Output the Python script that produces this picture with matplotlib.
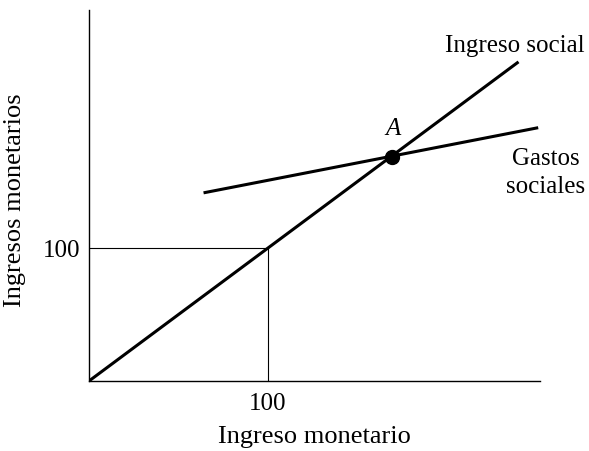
import matplotlib.pyplot as plt

# data (units of money income)
social_x = [0, 240]
social_y = [0, 240]
gastos_x = [64, 251]
gastos_y = [141.5, 190.5]
point_a = (169.5, 168.5)
guide = 100

plt.rcParams['font.family'] = ['Liberation Serif', 'DejaVu Serif']

fig = plt.figure(figsize=(5.89, 4.51), dpi=100)
ax = fig.add_axes([89 / 589, 70 / 451, 451 / 589, 371 / 451])

# guide lines at 100
ax.plot([0, guide], [guide, guide], color='black', lw=0.8)
ax.plot([guide, guide], [0, guide], color='black', lw=0.8)

# curves
ax.plot(social_x, social_y, color='black', lw=2.2, solid_capstyle='butt')
ax.plot(gastos_x, gastos_y, color='black', lw=2.2, solid_capstyle='butt')
ax.plot(*point_a, 'o', color='black', markersize=10)

# labels on the chart
ax.text(170, 185, 'A', fontsize=18, style='italic', ha='center', va='baseline')
ax.text(199, 247.5, 'Ingreso social', fontsize=18, ha='left', va='baseline')
ax.text(255, 162.5, 'Gastos', fontsize=18, ha='center', va='baseline')
ax.text(255, 141.5, 'sociales', fontsize=18, ha='center', va='baseline')

ax.set_xlim(0, 252)
ax.set_ylim(0, 279)
ax.set_xticks([guide])
ax.set_yticks([guide])
ax.tick_params(length=0, labelsize=18, pad=6)
ax.tick_params(axis='x', pad=9)
ax.set_xlabel('Ingreso monetario', fontsize=19, va='baseline')
ax.xaxis.set_label_coords(0.5, -0.167)
ax.set_ylabel('Ingresos monetarios', fontsize=19, va='center')
ax.yaxis.set_label_coords(-0.163, (381 - 200) / 371)

for side in ['top', 'right']:
    ax.spines[side].set_visible(False)
for side in ['left', 'bottom']:
    ax.spines[side].set_linewidth(1.0)

fig.savefig('out.png', dpi=100)
